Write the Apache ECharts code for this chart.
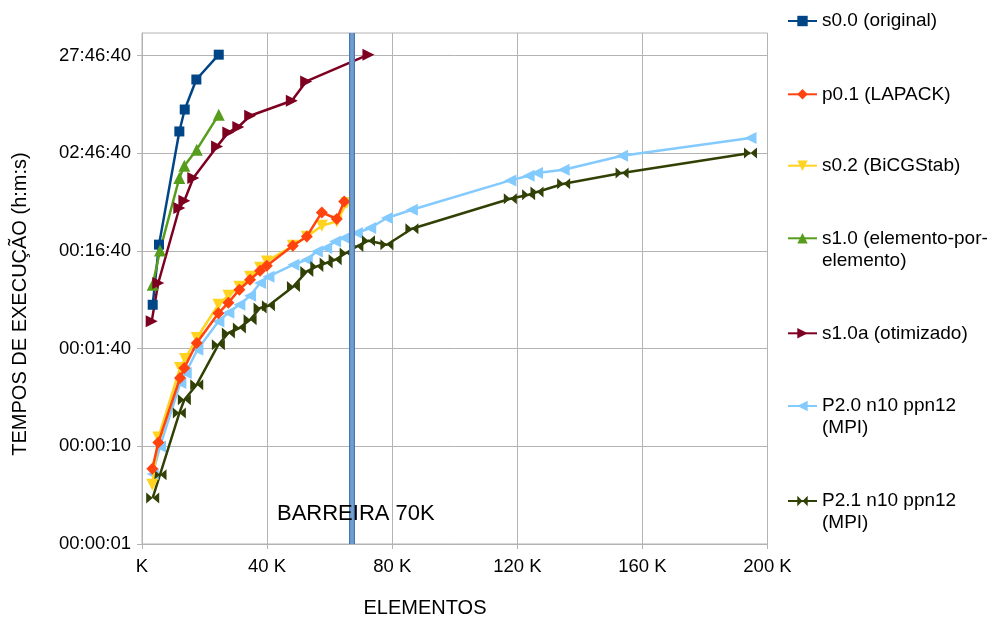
<!DOCTYPE html>
<html><head><meta charset="utf-8">
<script src="https://cdn.jsdelivr.net/npm/echarts@6/dist/echarts.min.js"></script>
<style>html,body{margin:0;padding:0;background:#fff}#c{width:995px;height:618px}</style>
</head><body><div id="c"></div>
<script>
// ---- data ----
const seriesNames = ['s0.0 (original)','p0.1 (LAPACK)','s0.2 (BiCGStab)','s1.0 (elemento-por-elemento)','s1.0a (otimizado)','P2.0 n10 ppn12 (MPI)','P2.1 n10 ppn12 (MPI)'];
const legendLabels = ['s0.0 (original)','p0.1 (LAPACK)','s0.2 (BiCGStab)','s1.0 (elemento-por-\nelemento)','s1.0a (otimizado)','P2.0 n10 ppn12\n(MPI)','P2.1 n10 ppn12\n(MPI)'];

const s00X = [3420, 5440, 11940, 13660, 17380, 24540];
const s00Y = [281, 1159, 16700, 28000, 56800, 102000];

const p01X = [3300, 5220, 12160, 13540, 17500, 24420, 27620, 31140, 34560, 37760, 39900, 48220, 52700, 57500, 62300, 64640];
const p01Y = [5.9, 10.96, 50.0, 63.3, 114, 230, 295, 401, 507, 627, 706, 1130, 1407, 2478, 2122, 3212];

const s02X = [3300, 5220, 12160, 13760, 17500, 24420, 27620, 31140, 34560, 37760, 39900, 48220, 52700, 57500, 62300, 65500];
const s02Y = [4.05, 12.3, 63.3, 78.3, 128.4, 281, 348, 430, 545, 673, 781, 1130, 1397, 1811, 2004, 3092];

const s10X = [3420, 5760, 11940, 13540, 17500, 24540];
const s10Y = [451, 1012, 5570, 7450, 10870, 24800];

const s10aX = [3100, 5200, 11940, 13540, 16400, 24000, 27600, 30800, 34600, 47900, 52500, 72400];
const s10aY = [190, 469, 2750, 3265, 5570, 11740, 16330, 18540, 24200, 34400, 54300, 101900];

const p20X = [3420, 5760, 12260, 13980, 17700, 24420, 27620, 31140, 34560, 37760, 40420, 48420, 52700, 55900, 58880, 61760, 64640, 68700, 72960, 78300, 86300, 117760, 123620, 126300, 134820, 153500, 194560];
const p20Y = [5.21, 9.98, 44.5, 56.3, 97.5, 189.8, 233, 281, 348, 469, 545, 722, 813, 988, 1071, 1251, 1355, 1525, 1715, 2172, 2641, 5270, 5888, 6270, 6778, 9425, 14310];

const p21X = [3420, 5760, 11940, 13540, 17500, 24420, 27620, 31140, 34560, 37760, 40420, 48420, 52700, 55900, 58880, 61760, 65280, 68700, 72420, 78300, 86300, 117760, 123620, 126300, 134820, 153500, 194560];
const p21Y = [2.96, 5.12, 21.9, 30.0, 42.7, 109.6, 144.5, 162.5, 197.6, 260.4, 274.9, 433.3, 616.6, 693.5, 751.6, 812.8, 951, 1112, 1271, 1156, 1687, 3420, 3760, 4009, 4875, 6270, 10046];

const yTickValues = [1, 10, 100, 1000, 10000, 100000];
const xMin = 0, xMax = 200000, xInterval = 40000;
const yMin = 1, yMax = 170000;
const barrierX = 67100;

// ---- styling ----
const FONT = '"Liberation Sans", Arial, sans-serif';
const colors = ['#004586','#ff420e','#ffd320','#579d1c','#7e0021','#83caff','#314004'];
const bowtie = 'path://M0,0L10,5L0,10Z M20,0L10,5L20,10Z';
const symbols = [
  {symbol:'rect', size:10, rotate:0},
  {symbol:'diamond', size:12, rotate:0},
  {symbol:'triangle', size:12, rotate:180},
  {symbol:'triangle', size:12, rotate:0},
  {symbol:'triangle', size:12, rotate:-90},
  {symbol:'triangle', size:12, rotate:90},
  {symbol:bowtie, size:[13,11], rotate:0}
];
const xs = [s00X, p01X, s02X, s10X, s10aX, p20X, p21X];
const ys = [s00Y, p01Y, s02Y, s10Y, s10aY, p20Y, p21Y];
const zs = [2, 4, 3, 2, 2, 2, 2];

function pad(n){ return (n < 10 ? '0' : '') + n; }
function fmtTime(v){
  const s = Math.round(v);
  const h = Math.floor(s/3600), m = Math.floor((s%3600)/60), ss = s%60;
  return pad(h)+':'+pad(m)+':'+pad(ss);
}

const series = seriesNames.map((n, i) => ({
  name: n, type: 'line',
  data: xs[i].map((x, j) => [x, ys[i][j]]),
  symbol: symbols[i].symbol, symbolSize: symbols[i].size, symbolRotate: symbols[i].rotate,
  showSymbol: true, z: zs[i],
  lineStyle: {width: 2.5, color: colors[i]},
  itemStyle: {color: colors[i]},
  emphasis: {disabled: true},
  animation: false
}));

// barrier annotation attached to the last series
const last = series[series.length - 1];
last.markLine = {
  silent: true, symbol: 'none', animation: false, label: {show: false}, z: 10,
  data: [
    {xAxis: barrierX, lineStyle: {color: '#4a77b4', width: 6, type: 'solid'}},
    {xAxis: barrierX, lineStyle: {color: '#729fcf', width: 3.5, type: 'solid'}}
  ]
};

const legendIconY = [21, 94.3, 165.7, 238.3, 333.3, 406, 501];
const legends = seriesNames.map((n, i) => {
  const twoLine = legendLabels[i].indexOf('\n') >= 0;
  return {
    data: [n],
    orient: 'vertical', left: 787, top: legendIconY[i] - (twoLine ? 33 : 11),
    padding: 0, itemGap: 0, itemWidth: 29, itemHeight: 13, selectedMode: false,
    // leading blank line keeps the first text line level with the icon
    formatter: () => (twoLine ? '\n' : '') + legendLabels[i],
    textStyle: {fontSize: 19, lineHeight: 22, color: '#000', fontFamily: FONT}
  };
});

const chart = echarts.init(document.getElementById('c'), null, {renderer: 'canvas'});
chart.setOption({
  animation: false,
  backgroundColor: '#fff',
  grid: {left: 142, right: 227.5, top: 33, bottom: 74, show: true, borderColor: '#b3b3b3', borderWidth: 1, containLabel: false},
  xAxis: {
    type: 'value', min: xMin, max: xMax, interval: xInterval,
    axisLine: {show: true, onZero: false, lineStyle: {color: '#b3b3b3', width: 1}},
    axisTick: {show: true, length: 5, lineStyle: {color: '#b3b3b3'}},
    axisLabel: {formatter: v => v === 0 ? 'K' : (v/1000) + ' K', fontSize: 18.5, color: '#000', margin: 13, fontFamily: FONT},
    splitLine: {show: true, lineStyle: {color: '#b3b3b3', width: 1}}
  },
  yAxis: {
    type: 'log', logBase: 10, min: yMin, max: yMax,
    axisLine: {show: true, lineStyle: {color: '#b3b3b3', width: 1}},
    axisTick: {show: true, length: 5, lineStyle: {color: '#b3b3b3'}, customValues: yTickValues},
    axisLabel: {customValues: yTickValues, formatter: fmtTime, fontSize: 18.5, color: '#000', margin: 11, fontFamily: FONT},
    splitLine: {show: true, lineStyle: {color: '#b3b3b3', width: 1}}
  },
  legend: legends,
  series: series,
  graphic: [
    {type: 'text', x: 20.5, y: 304, rotation: Math.PI/2, style: {text: 'TEMPOS DE EXECUÇÃO (h:m:s)', font: '20px ' + FONT, fill: '#000', align: 'center', verticalAlign: 'middle', textAlign: 'center', textVerticalAlign: 'middle'}},
    {type: 'text', x: 425, y: 608, style: {text: 'ELEMENTOS', font: '20px ' + FONT, fill: '#000', align: 'center', verticalAlign: 'middle', textAlign: 'center', textVerticalAlign: 'middle'}},
    {type: 'text', x: 277, y: 514, z: 20, style: {text: 'BARREIRA 70K', font: '22px ' + FONT, fill: '#000', align: 'left', verticalAlign: 'middle', textAlign: 'left', textVerticalAlign: 'middle'}}
  ]
});
</script></body></html>
